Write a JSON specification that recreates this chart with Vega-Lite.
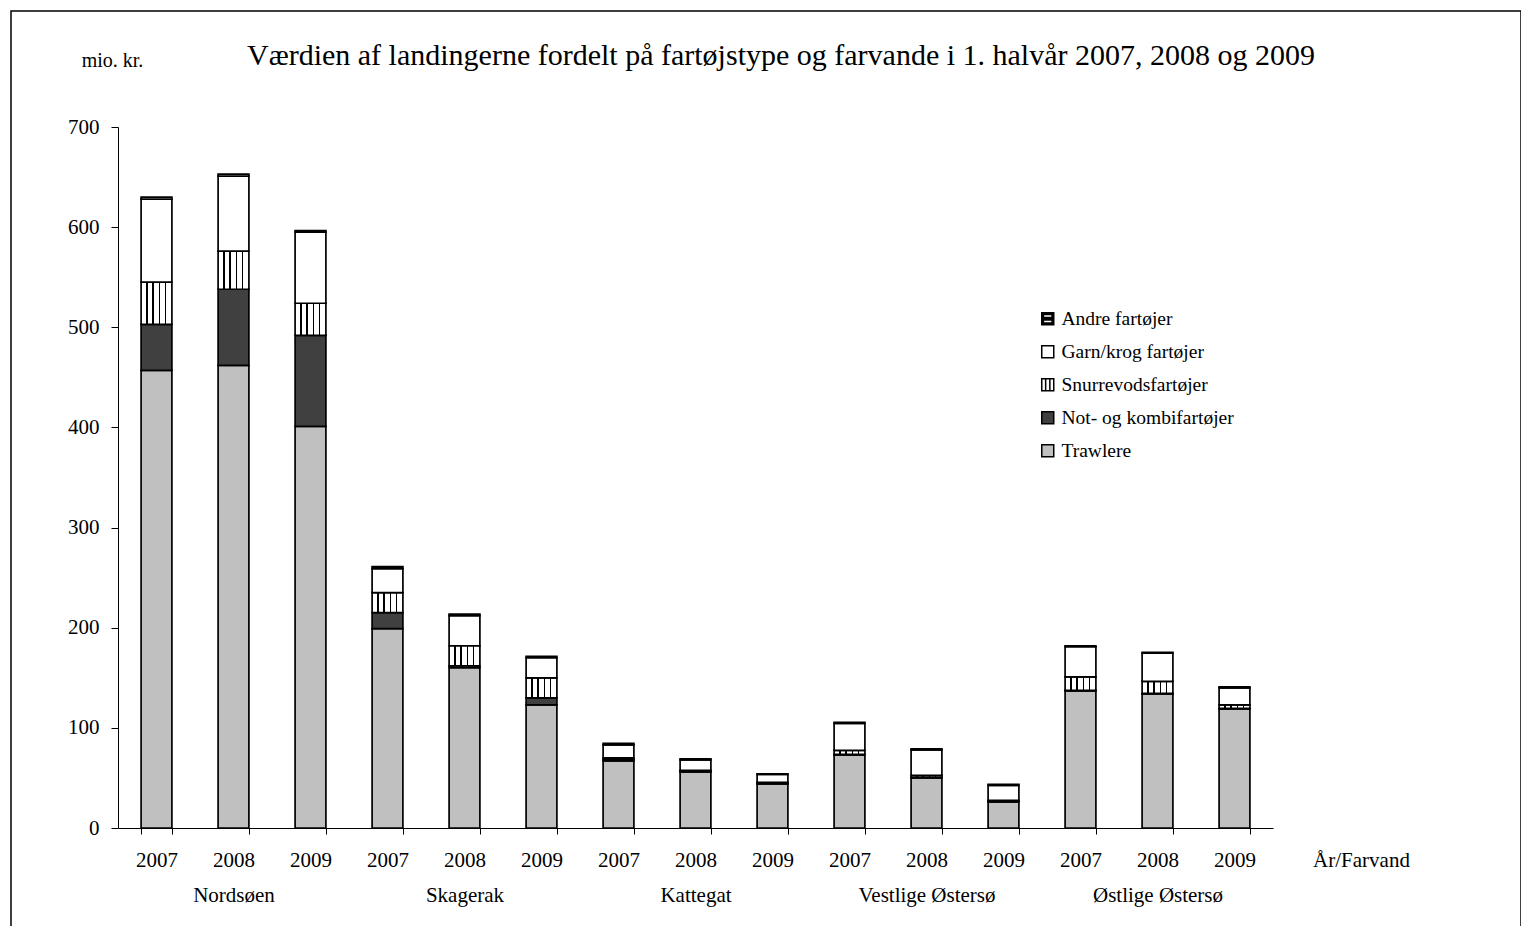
{
  "$schema": "https://vega.github.io/schema/vega-lite/v6.json",
  "autosize": "none",
  "padding": {"left": 11, "top": 11, "right": 0, "bottom": 0},
  "width": 1510,
  "height": 930,
  "background": "white",
  "title": {
    "text": "Værdien af landingerne fordelt på fartøjstype og farvande i 1. halvår 2007, 2008 og 2009",
    "font": "Liberation Serif",
    "fontSize": 30,
    "fontWeight": "normal",
    "color": "black",
    "anchor": "middle",
    "frame": "group",
    "baseline": "alphabetic",
    "offset": -84,
    "dx": 15
  },
  "data": {
    "values": [
      {"bar": "2007|Nordsøen", "type": "Trawlere", "ord": 1, "value": 457},
      {"bar": "2007|Nordsøen", "type": "Not- og kombifartøjer", "ord": 2, "value": 46},
      {"bar": "2007|Nordsøen", "type": "Snurrevodsfartøjer", "ord": 3, "value": 42},
      {"bar": "2007|Nordsøen", "type": "Garn/krog fartøjer", "ord": 4, "value": 83},
      {"bar": "2007|Nordsøen", "type": "Andre fartøjer", "ord": 5, "value": 2},
      {"bar": "2008|Nordsøen", "type": "Trawlere", "ord": 1, "value": 462},
      {"bar": "2008|Nordsøen", "type": "Not- og kombifartøjer", "ord": 2, "value": 76},
      {"bar": "2008|Nordsøen", "type": "Snurrevodsfartøjer", "ord": 3, "value": 38},
      {"bar": "2008|Nordsøen", "type": "Garn/krog fartøjer", "ord": 4, "value": 75},
      {"bar": "2008|Nordsøen", "type": "Andre fartøjer", "ord": 5, "value": 2},
      {"bar": "2009|Nordsøen", "type": "Trawlere", "ord": 1, "value": 401},
      {"bar": "2009|Nordsøen", "type": "Not- og kombifartøjer", "ord": 2, "value": 91},
      {"bar": "2009|Nordsøen", "type": "Snurrevodsfartøjer", "ord": 3, "value": 32},
      {"bar": "2009|Nordsøen", "type": "Garn/krog fartøjer", "ord": 4, "value": 71},
      {"bar": "2009|Nordsøen", "type": "Andre fartøjer", "ord": 5, "value": 1.5},
      {"bar": "2007|Skagerak", "type": "Trawlere", "ord": 1, "value": 199},
      {"bar": "2007|Skagerak", "type": "Not- og kombifartøjer", "ord": 2, "value": 16},
      {"bar": "2007|Skagerak", "type": "Snurrevodsfartøjer", "ord": 3, "value": 20},
      {"bar": "2007|Skagerak", "type": "Garn/krog fartøjer", "ord": 4, "value": 24},
      {"bar": "2007|Skagerak", "type": "Andre fartøjer", "ord": 5, "value": 2},
      {"bar": "2008|Skagerak", "type": "Trawlere", "ord": 1, "value": 160},
      {"bar": "2008|Skagerak", "type": "Not- og kombifartøjer", "ord": 2, "value": 2},
      {"bar": "2008|Skagerak", "type": "Snurrevodsfartøjer", "ord": 3, "value": 20},
      {"bar": "2008|Skagerak", "type": "Garn/krog fartøjer", "ord": 4, "value": 30},
      {"bar": "2008|Skagerak", "type": "Andre fartøjer", "ord": 5, "value": 1.5},
      {"bar": "2009|Skagerak", "type": "Trawlere", "ord": 1, "value": 123},
      {"bar": "2009|Skagerak", "type": "Not- og kombifartøjer", "ord": 2, "value": 7},
      {"bar": "2009|Skagerak", "type": "Snurrevodsfartøjer", "ord": 3, "value": 20},
      {"bar": "2009|Skagerak", "type": "Garn/krog fartøjer", "ord": 4, "value": 20},
      {"bar": "2009|Skagerak", "type": "Andre fartøjer", "ord": 5, "value": 1.5},
      {"bar": "2007|Kattegat", "type": "Trawlere", "ord": 1, "value": 67},
      {"bar": "2007|Kattegat", "type": "Not- og kombifartøjer", "ord": 2, "value": 1.5},
      {"bar": "2007|Kattegat", "type": "Snurrevodsfartøjer", "ord": 3, "value": 1.5},
      {"bar": "2007|Kattegat", "type": "Garn/krog fartøjer", "ord": 4, "value": 13},
      {"bar": "2007|Kattegat", "type": "Andre fartøjer", "ord": 5, "value": 1.5},
      {"bar": "2008|Kattegat", "type": "Trawlere", "ord": 1, "value": 56},
      {"bar": "2008|Kattegat", "type": "Not- og kombifartøjer", "ord": 2, "value": 0.5},
      {"bar": "2008|Kattegat", "type": "Snurrevodsfartøjer", "ord": 3, "value": 1},
      {"bar": "2008|Kattegat", "type": "Garn/krog fartøjer", "ord": 4, "value": 10.5},
      {"bar": "2008|Kattegat", "type": "Andre fartøjer", "ord": 5, "value": 1},
      {"bar": "2009|Kattegat", "type": "Trawlere", "ord": 1, "value": 44},
      {"bar": "2009|Kattegat", "type": "Not- og kombifartøjer", "ord": 2, "value": 0.5},
      {"bar": "2009|Kattegat", "type": "Snurrevodsfartøjer", "ord": 3, "value": 1},
      {"bar": "2009|Kattegat", "type": "Garn/krog fartøjer", "ord": 4, "value": 8},
      {"bar": "2009|Kattegat", "type": "Andre fartøjer", "ord": 5, "value": 0.5},
      {"bar": "2007|Vestlige Østersø", "type": "Trawlere", "ord": 1, "value": 73},
      {"bar": "2007|Vestlige Østersø", "type": "Not- og kombifartøjer", "ord": 2, "value": 0.5},
      {"bar": "2007|Vestlige Østersø", "type": "Snurrevodsfartøjer", "ord": 3, "value": 4},
      {"bar": "2007|Vestlige Østersø", "type": "Garn/krog fartøjer", "ord": 4, "value": 27},
      {"bar": "2007|Vestlige Østersø", "type": "Andre fartøjer", "ord": 5, "value": 1},
      {"bar": "2008|Vestlige Østersø", "type": "Trawlere", "ord": 1, "value": 50},
      {"bar": "2008|Vestlige Østersø", "type": "Not- og kombifartøjer", "ord": 2, "value": 0.5},
      {"bar": "2008|Vestlige Østersø", "type": "Snurrevodsfartøjer", "ord": 3, "value": 2},
      {"bar": "2008|Vestlige Østersø", "type": "Garn/krog fartøjer", "ord": 4, "value": 25.5},
      {"bar": "2008|Vestlige Østersø", "type": "Andre fartøjer", "ord": 5, "value": 1},
      {"bar": "2009|Vestlige Østersø", "type": "Trawlere", "ord": 1, "value": 26},
      {"bar": "2009|Vestlige Østersø", "type": "Not- og kombifartøjer", "ord": 2, "value": 0.5},
      {"bar": "2009|Vestlige Østersø", "type": "Snurrevodsfartøjer", "ord": 3, "value": 1},
      {"bar": "2009|Vestlige Østersø", "type": "Garn/krog fartøjer", "ord": 4, "value": 15},
      {"bar": "2009|Vestlige Østersø", "type": "Andre fartøjer", "ord": 5, "value": 1},
      {"bar": "2007|Østlige Østersø", "type": "Trawlere", "ord": 1, "value": 137},
      {"bar": "2007|Østlige Østersø", "type": "Not- og kombifartøjer", "ord": 2, "value": 0.5},
      {"bar": "2007|Østlige Østersø", "type": "Snurrevodsfartøjer", "ord": 3, "value": 13.5},
      {"bar": "2007|Østlige Østersø", "type": "Garn/krog fartøjer", "ord": 4, "value": 30},
      {"bar": "2007|Østlige Østersø", "type": "Andre fartøjer", "ord": 5, "value": 1},
      {"bar": "2008|Østlige Østersø", "type": "Trawlere", "ord": 1, "value": 134},
      {"bar": "2008|Østlige Østersø", "type": "Not- og kombifartøjer", "ord": 2, "value": 0.5},
      {"bar": "2008|Østlige Østersø", "type": "Snurrevodsfartøjer", "ord": 3, "value": 12},
      {"bar": "2008|Østlige Østersø", "type": "Garn/krog fartøjer", "ord": 4, "value": 28},
      {"bar": "2008|Østlige Østersø", "type": "Andre fartøjer", "ord": 5, "value": 1},
      {"bar": "2009|Østlige Østersø", "type": "Trawlere", "ord": 1, "value": 119},
      {"bar": "2009|Østlige Østersø", "type": "Not- og kombifartøjer", "ord": 2, "value": 0.5},
      {"bar": "2009|Østlige Østersø", "type": "Snurrevodsfartøjer", "ord": 3, "value": 3.5},
      {"bar": "2009|Østlige Østersø", "type": "Garn/krog fartøjer", "ord": 4, "value": 17},
      {"bar": "2009|Østlige Østersø", "type": "Andre fartøjer", "ord": 5, "value": 1}
    ]
  },
  "mark": {"type": "bar", "stroke": "black", "strokeWidth": 1.7, "strokeOpacity": 1, "fillOpacity": 1},
  "encoding": {
    "x": {
      "field": "bar",
      "type": "nominal",
      "sort": null,
      "scale": {"range": [107, 1262], "paddingInner": 0.6, "paddingOuter": 0.3},
      "axis": {
        "title": "År/Farvand",
        "titleX": 1350,
        "titleY": 32,
        "titleAlign": "center",
        "titleBaseline": "middle",
        "titleFontSize": 21,
        "titleFontWeight": "normal",
        "labelAngle": 0,
        "labelExpr": "indexof(datum.label, '2008') == 0 ? split(datum.label, '|') : slice(datum.label, 0, 4)",
        "labelLineHeight": 35,
        "labelPadding": 15,
        "labelFontSize": 21,
        "tickBand": "extent",
        "tickSize": 6,
        "offset": -113
      }
    },
    "y": {
      "field": "value",
      "type": "quantitative",
      "stack": "zero",
      "scale": {"domain": [0, 700], "range": [817, 116], "nice": false},
      "axis": {
        "title": "mio. kr.",
        "titleAngle": 0,
        "titleX": -6,
        "titleY": 49,
        "titleAlign": "center",
        "titleBaseline": "middle",
        "titleFontSize": 20,
        "titleFontWeight": "normal",
        "values": [0, 100, 200, 300, 400, 500, 600, 700],
        "labelFontSize": 21,
        "labelPadding": 12,
        "tickSize": 7,
        "grid": false,
        "offset": -107
      }
    },
    "order": {"field": "ord", "type": "quantitative", "sort": "ascending"},
    "fill": {
      "condition": [
        {
          "test": "datum.type == 'Andre fartøjer'",
          "value": {"gradient": "linear", "x1": 0, "y1": 0, "x2": 0, "y2": 1, "stops": [
            {"offset": 0, "color": "white"}, {"offset": 0.38, "color": "white"},
            {"offset": 0.38, "color": "black"}, {"offset": 0.62, "color": "black"},
            {"offset": 0.62, "color": "white"}, {"offset": 1, "color": "white"}]}
        },
        {
          "test": "datum.type == 'Snurrevodsfartøjer'",
          "value": {"gradient": "linear", "x1": 0, "y1": 0, "x2": 1, "y2": 0, "stops": [
            {"offset": 0, "color": "white"}, {"offset": 0.17, "color": "white"},
            {"offset": 0.17, "color": "black"}, {"offset": 0.22, "color": "black"},
            {"offset": 0.22, "color": "white"}, {"offset": 0.37, "color": "white"},
            {"offset": 0.37, "color": "black"}, {"offset": 0.42, "color": "black"},
            {"offset": 0.42, "color": "white"}, {"offset": 0.57, "color": "white"},
            {"offset": 0.57, "color": "black"}, {"offset": 0.62, "color": "black"},
            {"offset": 0.62, "color": "white"}, {"offset": 0.77, "color": "white"},
            {"offset": 0.77, "color": "black"}, {"offset": 0.82, "color": "black"},
            {"offset": 0.82, "color": "white"}, {"offset": 1, "color": "white"}]}
        }
      ],
      "field": "type",
      "type": "nominal",
      "scale": {
        "domain": ["Andre fartøjer", "Garn/krog fartøjer", "Snurrevodsfartøjer", "Not- og kombifartøjer", "Trawlere"],
        "range": ["black", "white", "white", "#404040", "#C0C0C0"]
      },
      "legend": {
        "title": null,
        "orient": "none",
        "legendX": 1027,
        "legendY": 298,
        "padding": 0,
        "symbolType": "square",
        "symbolSize": 144,
        "symbolStrokeColor": "black",
        "symbolStrokeWidth": 1.5,
        "symbolOpacity": 1,
        "labelFontSize": 19.5,
        "labelOffset": 4,
        "rowPadding": 12,
        "encode": {
          "symbols": {
            "update": {
              "shape": {"signal": "datum.value == 'Andre fartøjer' ? 'M-1,-1H1V1H-1Z M-0.72,-0.72V-0.22H0.72V-0.72Z M-0.72,0.22V0.72H0.72V0.22Z' : datum.value == 'Snurrevodsfartøjer' ? 'M-1,-1H1V1H-1Z M-0.35,-1V1 M0.35,-1V1' : 'square'"},
              "strokeWidth": {"value": 1.5},
              "stroke": {"value": "black"}
            }
          }
        }
      }
    }
  },
  "config": {
    "font": "Liberation Serif",
    "view": {"stroke": "black", "strokeWidth": 1.5},
    "axis": {
      "labelFont": "Liberation Serif",
      "titleFont": "Liberation Serif",
      "labelColor": "black",
      "titleColor": "black",
      "domainColor": "black",
      "domainWidth": 1,
      "tickColor": "black",
      "tickWidth": 1
    },
    "legend": {
      "labelFont": "Liberation Serif",
      "labelColor": "black",
      "labelLimit": 0
    }
  }
}
